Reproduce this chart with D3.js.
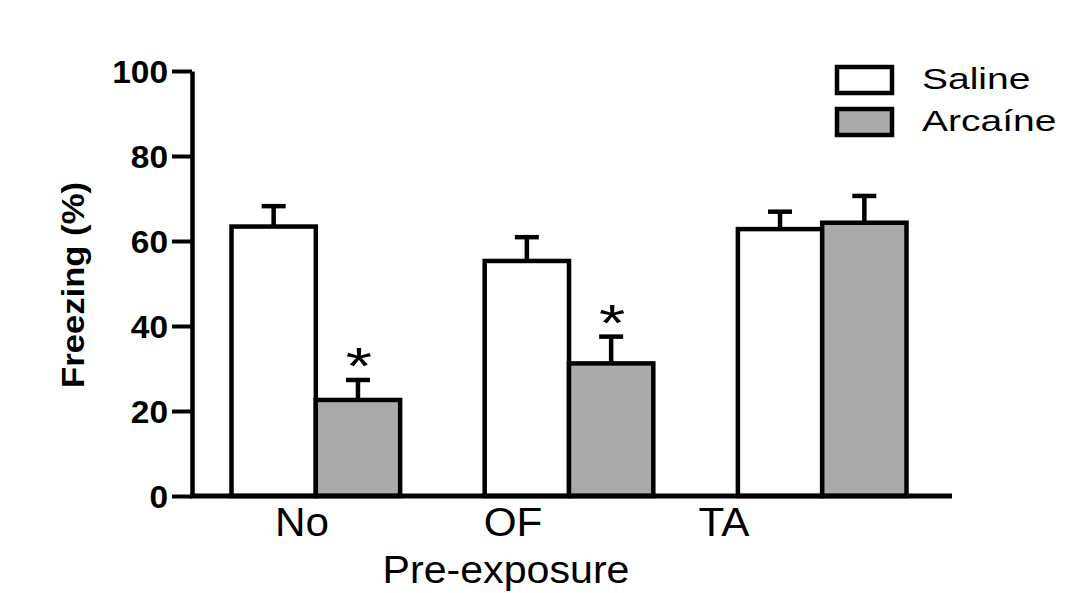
<!DOCTYPE html>
<html>
<head>
<meta charset="utf-8">
<script src="https://cdn.jsdelivr.net/npm/d3@7"></script>
<style>
  body { margin: 0; background: #fff; }
  svg { display: block; font-family: "Liberation Sans", Arial, sans-serif; }
</style>
</head>
<body>
<svg></svg>
<script>
// data
const categories = ["No", "OF", "TA"];
const series = ["Saline", "Arcaíne"];
const salineMean = [63.4, 55.3, 62.8];
const salineSem = [4.8, 5.6, 4.1];
const arcaineMean = [22.6, 31.2, 64.3];
const arcaineSem = [4.7, 6.3, 6.3];
const significant = [true, true, false]; // asterisk boven Arcaine
const yTicks = [0, 20, 40, 60, 80, 100];

const width = 1085;
const height = 593;
// plotgebied ('top' is al een globale naam in de browser)
const plotLeft = 192, plotRight = 952, plotTop = 71, plotBottom = 496;
const fills = { "Saline": "#ffffff", "Arcaíne": "#aaaaaa" };

const svg = d3.select('svg')
  .attr('width', width)
  .attr('height', height);

// rows per categorie/serie
const rows = [];
categories.forEach((c, i) => {
  rows.push({ cat: c, s: "Saline", mean: salineMean[i], sem: salineSem[i], star: false });
  rows.push({ cat: c, s: "Arcaíne", mean: arcaineMean[i], sem: arcaineSem[i], star: significant[i] });
});

const x = d3.scaleBand()
  .domain(categories)
  .range([plotLeft + 39.5, plotRight - 45.5])
  .paddingInner(0.334)
  .paddingOuter(0);
const xSub = d3.scaleBand()
  .domain(series)
  .range([0, x.bandwidth()]);
const y = d3.scaleLinear()
  .domain([0, 100])
  .range([plotBottom, plotTop]);
// labels onder de as staan in het origineel iets naar links
const xLabel = d3.scalePoint()
  .domain(categories)
  .range([302, 724]);

// het origineel is horizontaal uitgerekt, dus tekst een beetje breder maken
function stretch(sel, k) {
  sel.each(function() {
    const w = this.getComputedTextLength();
    d3.select(this).attr('textLength', w * k).attr('lengthAdjust', 'spacingAndGlyphs');
  });
}

// bars
svg.append('g')
  .selectAll('rect')
  .data(rows)
  .enter()
  .append('rect')
  .attr('x', d => x(d.cat) + xSub(d.s))
  .attr('y', d => y(d.mean))
  .attr('width', xSub.bandwidth())
  .attr('height', d => y(0) - y(d.mean))
  .attr('fill', d => fills[d.s])
  .attr('stroke', '#000')
  .attr('stroke-width', 4.5);

// error bars (alleen omhoog)
const err = svg.append('g')
  .selectAll('g')
  .data(rows)
  .enter()
  .append('g')
  .attr('stroke', '#000')
  .attr('stroke-width', 4.5);
err.append('line')
  .attr('x1', d => x(d.cat) + xSub(d.s) + xSub.bandwidth() / 2)
  .attr('x2', d => x(d.cat) + xSub(d.s) + xSub.bandwidth() / 2)
  .attr('y1', d => y(d.mean))
  .attr('y2', d => y(d.mean + d.sem));
err.append('line')
  .attr('x1', d => x(d.cat) + xSub(d.s) + xSub.bandwidth() / 2 - 12)
  .attr('x2', d => x(d.cat) + xSub(d.s) + xSub.bandwidth() / 2 + 12)
  .attr('y1', d => y(d.mean + d.sem))
  .attr('y2', d => y(d.mean + d.sem));

// asterisks
svg.append('g')
  .selectAll('text')
  .data(rows.filter(d => d.star))
  .enter()
  .append('text')
  .attr('x', d => x(d.cat) + xSub(d.s) + xSub.bandwidth() / 2 + 1)
  .attr('y', d => y(d.mean + d.sem) + 4)
  .attr('text-anchor', 'middle')
  .attr('font-size', 52)
  .text('*')
  .call(stretch, 1.3);

// y-as
const yAxis = svg.append('g')
  .attr('transform', `translate(${plotLeft},0)`)
  .call(d3.axisLeft(y).tickValues(yTicks).tickSize(20).tickSizeOuter(0).tickPadding(4));
yAxis.select('.domain').attr('stroke', '#000').attr('stroke-width', 4.5);
yAxis.selectAll('.tick line').attr('stroke', '#000').attr('stroke-width', 4);
yAxis.selectAll('.tick text')
  .attr('font-size', 31)
  .attr('font-weight', 'bold')
  .attr('font-family', '"Liberation Sans", Arial, sans-serif')
  .attr('fill', '#000')
  .attr('dy', '0.36em')
  .call(stretch, 1.08);

// x-as
svg.append('line')
  .attr('x1', plotLeft - 2)
  .attr('x2', plotRight)
  .attr('y1', plotBottom)
  .attr('y2', plotBottom)
  .attr('stroke', '#000')
  .attr('stroke-width', 5);

svg.append('g')
  .selectAll('text')
  .data(categories)
  .enter()
  .append('text')
  .attr('x', d => xLabel(d))
  .attr('y', 536)
  .attr('text-anchor', 'middle')
  .attr('font-size', 41)
  .text(d => d)
  .call(stretch, 1.03);

// as-titels
svg.append('text')
  .attr('x', 506)
  .attr('y', 583)
  .attr('text-anchor', 'middle')
  .attr('font-size', 39)
  .text('Pre-exposure')
  .attr('textLength', 247)
  .attr('lengthAdjust', 'spacingAndGlyphs');

svg.append('text')
  .attr('transform', 'translate(84,285) rotate(-90)')
  .attr('text-anchor', 'middle')
  .attr('font-size', 32)
  .attr('font-weight', 'bold')
  .text('Freezing (%)')
  .attr('textLength', 206)
  .attr('lengthAdjust', 'spacingAndGlyphs');

// legenda
const legend = svg.append('g')
  .selectAll('g')
  .data(series)
  .enter()
  .append('g')
  .attr('transform', (d, i) => `translate(837,${67 + i * 42})`);
legend.append('rect')
  .attr('width', 55)
  .attr('height', 26)
  .attr('fill', d => fills[d])
  .attr('stroke', '#000')
  .attr('stroke-width', 4.5);
legend.append('text')
  .attr('x', 85)
  .attr('y', 22)
  .attr('font-size', 30)
  .text(d => d)
  .call(stretch, 1.3);
</script>
</body>
</html>
